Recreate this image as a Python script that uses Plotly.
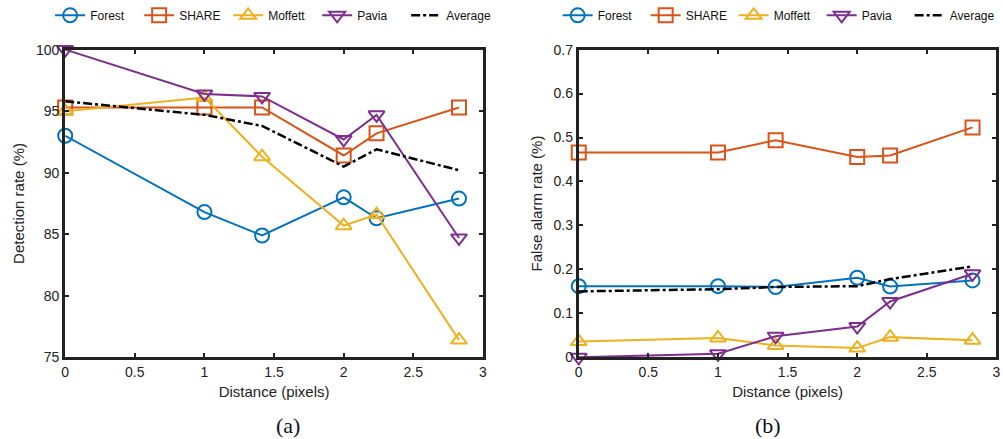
import plotly.graph_objects as go
from plotly.subplots import make_subplots

distance = [0, 1, 1.414, 2, 2.236, 2.828]
series_names = ["Forest", "SHARE", "Moffett", "Pavia", "Average"]

det_forest = [93.0, 86.8, 84.9, 88.0, 86.3, 87.9]
det_share = [95.3, 95.3, 95.3, 91.4, 93.2, 95.3]
det_moffett = [95.0, 96.1, 91.3, 85.7, 86.6, 76.4]
det_pavia = [100.0, 96.4, 96.2, 92.7, 94.7, 84.7]
det_average = [95.8, 94.7, 93.8, 90.5, 91.9, 90.2]

fa_forest = [0.162, 0.162, 0.160, 0.181, 0.161, 0.175]
fa_share = [0.466, 0.466, 0.494, 0.456, 0.459, 0.523]
fa_moffett = [0.036, 0.044, 0.027, 0.021, 0.046, 0.039]
fa_pavia = [0.0, 0.008, 0.048, 0.070, 0.127, 0.190]
fa_average = [0.150, 0.155, 0.160, 0.162, 0.178, 0.207]

det_ticks = [75, 80, 85, 90, 95, 100]
fa_ticks = [0, 0.1, 0.2, 0.3, 0.4, 0.5, 0.6, 0.7]
fa_tick_labels = ["0", "0.1", "0.2", "0.3", "0.4", "0.5", "0.6", "0.7"]
x_ticks = [0, 0.5, 1, 1.5, 2, 2.5, 3]
x_tick_labels = ["0", "0.5", "1", "1.5", "2", "2.5", "3"]

colors = ["#0072BD", "#D95319", "#EDB120", "#7E2F8E", "#000000"]
symbols = ["circle-open", "square-open", "triangle-up-open", "triangle-down-open", None]

fig = make_subplots(rows=1, cols=2)

det_data = [det_forest, det_share, det_moffett, det_pavia, det_average]
fa_data = [fa_forest, fa_share, fa_moffett, fa_pavia, fa_average]

for col, data, leg in [(1, det_data, "legend"), (2, fa_data, "legend2")]:
    for name, ys, c, s in zip(series_names, data, colors, symbols):
        if s is None:
            fig.add_trace(go.Scatter(x=distance, y=ys, name=name, mode="lines",
                                     line=dict(color=c, width=2.5, dash="dashdot"),
                                     legend=leg, cliponaxis=False), row=1, col=col)
        else:
            fig.add_trace(go.Scatter(x=distance, y=ys, name=name, mode="lines+markers",
                                     line=dict(color=c, width=2),
                                     marker=dict(symbol=s, size=14, color=c,
                                                 line=dict(color=c, width=2)),
                                     legend=leg, cliponaxis=False), row=1, col=col)

FONT = "Liberation Sans, Arial"
axis_common = dict(showline=True, linewidth=3, linecolor="#222222", mirror="ticks",
                   ticks="inside", ticklen=4, tickwidth=2, tickcolor="#222222",
                   showgrid=False, zeroline=False, automargin=False,
                   tickfont=dict(family=FONT, size=14, color="#222222"))

fig.update_xaxes(**axis_common, range=[0, 3], tickvals=x_ticks, ticktext=x_tick_labels,
                 title=dict(text="Distance (pixels)", standoff=8,
                            font=dict(family=FONT, size=15, color="#222222")))
fig.update_xaxes(domain=[0.065, 0.4815], row=1, col=1)
fig.update_xaxes(domain=[0.577, 0.9935], row=1, col=2)
fig.update_yaxes(**axis_common)
fig.update_yaxes(domain=[0.186, 0.887])
fig.update_yaxes(range=[75, 100], tickvals=det_ticks, row=1, col=1,
                 title=dict(text="Detection rate (%)", standoff=8,
                            font=dict(family=FONT, size=15, color="#222222")))
fig.update_yaxes(range=[0, 0.7], tickvals=fa_ticks, ticktext=fa_tick_labels, row=1, col=2,
                 title=dict(text="False alarm rate (%)", standoff=8,
                            font=dict(family=FONT, size=15, color="#222222")))

legend_common = dict(orientation="h", yanchor="middle", y=0.965, xanchor="left",
                     entrywidthmode="pixels",
                     bgcolor="rgba(0,0,0,0)", tracegroupgap=0,
                     font=dict(family=FONT, size=12, color="#111111"))
fig.update_layout(
    width=1003, height=439,
    margin=dict(l=0, r=0, t=0, b=0, autoexpand=False),
    plot_bgcolor="white", paper_bgcolor="white",
    legend=dict(**legend_common, x=0.050, entrywidth=44),
    legend2=dict(**legend_common, x=0.556, entrywidth=43),
    annotations=[
        dict(text="(a)", x=0.2735, y=0.03, xref="paper", yref="paper", showarrow=False,
             yanchor="middle", font=dict(family="Liberation Serif, Times New Roman", size=22, color="#111111")),
        dict(text="(b)", x=0.7805, y=0.03, xref="paper", yref="paper", showarrow=False,
             yanchor="middle", font=dict(family="Liberation Serif, Times New Roman", size=22, color="#111111")),
    ],
)

fig.write_html("out.html", config={"displayModeBar": False},
               post_script="document.body.style.margin='0px';document.body.style.overflow='hidden';")
